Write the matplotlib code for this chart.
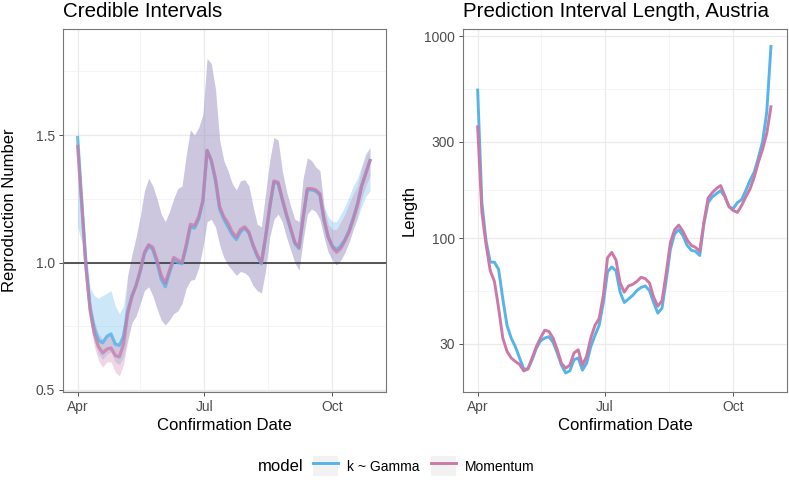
import matplotlib
matplotlib.use('Agg')
import matplotlib.pyplot as plt
from matplotlib.patches import Rectangle
from matplotlib.lines import Line2D
import pandas as pd

plt.rcParams['font.family'] = ['Liberation Sans', 'DejaVu Sans']

# every third day from 1 April 2020
dates = pd.date_range('2020-04-01', periods=71, freq='3D')

# reproduction number, posterior mean
gamma_r = [1.49, 1.24, 0.99, 0.82, 0.74, 0.695, 0.685, 0.71, 0.72, 0.68,
           0.675, 0.71, 0.81, 0.87, 0.91, 0.965, 1.035, 1.065, 1.05, 1.0,
           0.935, 0.905, 0.96, 1.01, 1.0, 0.995, 1.06, 1.14, 1.135, 1.17,
           1.24, 1.44, 1.40, 1.32, 1.21, 1.17, 1.14, 1.11, 1.09, 1.12,
           1.135, 1.115, 1.065, 1.025, 0.995, 1.10, 1.215, 1.315, 1.31, 1.245,
           1.185, 1.13, 1.075, 1.055, 1.175, 1.285, 1.285, 1.28, 1.265, 1.165,
           1.10, 1.065, 1.05, 1.065, 1.09, 1.125, 1.175, 1.23, 1.30, 1.35,
           1.40]
mom_r = [1.456, 1.22, 0.98, 0.81, 0.72, 0.67, 0.645, 0.66, 0.665, 0.635,
         0.63, 0.68, 0.80, 0.865, 0.91, 0.97, 1.04, 1.07, 1.06, 1.01,
         0.95, 0.92, 0.97, 1.02, 1.01, 1.00, 1.07, 1.15, 1.145, 1.18,
         1.245, 1.44, 1.40, 1.33, 1.22, 1.18, 1.155, 1.12, 1.10, 1.13,
         1.14, 1.12, 1.07, 1.03, 1.00, 1.10, 1.22, 1.32, 1.315, 1.25,
         1.19, 1.135, 1.08, 1.06, 1.18, 1.29, 1.29, 1.285, 1.27, 1.17,
         1.10, 1.06, 1.04, 1.055, 1.085, 1.12, 1.17, 1.225, 1.30, 1.35,
         1.40]

# credible interval bounds
gamma_hi = [1.54, 1.28, 1.05, 0.90, 0.87, 0.86, 0.87, 0.88, 0.89, 0.83,
            0.80, 0.83, 0.95, 1.03, 1.10, 1.18, 1.28, 1.33, 1.30, 1.25,
            1.19, 1.16, 1.20, 1.25, 1.29, 1.30, 1.42, 1.52, 1.50, 1.53,
            1.58, 1.80, 1.78, 1.68, 1.48, 1.40, 1.36, 1.31, 1.285, 1.32,
            1.325, 1.30, 1.22, 1.15, 1.14, 1.27, 1.40, 1.49, 1.48, 1.36,
            1.28, 1.22, 1.17, 1.16, 1.33, 1.41, 1.40, 1.375, 1.36, 1.22,
            1.18, 1.16, 1.16, 1.19, 1.22, 1.26, 1.30, 1.33, 1.38, 1.43,
            1.45]
gamma_lo = [1.14, 1.08, 0.90, 0.76, 0.69, 0.64, 0.62, 0.64, 0.65, 0.61,
            0.60, 0.63, 0.70, 0.765, 0.79, 0.84, 0.89, 0.905, 0.87, 0.82,
            0.775, 0.755, 0.775, 0.80, 0.81, 0.84, 0.90, 0.93, 0.935, 0.98,
            1.06, 1.16, 1.17, 1.14, 1.07, 1.02, 0.99, 0.97, 0.95, 0.965,
            0.96, 0.945, 0.91, 0.89, 0.88, 0.97, 1.10, 1.17, 1.19, 1.16,
            1.10, 1.05, 1.00, 0.97, 1.09, 1.19, 1.21, 1.20, 1.17, 1.10,
            1.04, 1.01, 0.99, 1.01, 1.04, 1.08, 1.13, 1.17, 1.22, 1.26,
            1.28]
mom_hi = [1.52, 1.26, 1.02, 0.86, 0.77, 0.72, 0.70, 0.72, 0.72, 0.69,
          0.68, 0.76, 0.95, 1.03, 1.10, 1.18, 1.28, 1.33, 1.30, 1.25,
          1.19, 1.16, 1.20, 1.25, 1.29, 1.30, 1.42, 1.52, 1.50, 1.53,
          1.58, 1.80, 1.78, 1.68, 1.48, 1.40, 1.36, 1.31, 1.285, 1.32,
          1.325, 1.30, 1.22, 1.15, 1.14, 1.27, 1.40, 1.49, 1.48, 1.36,
          1.28, 1.22, 1.17, 1.16, 1.33, 1.41, 1.40, 1.375, 1.36, 1.22,
          1.15, 1.13, 1.13, 1.16, 1.19, 1.23, 1.27, 1.30, 1.37, 1.42,
          1.45]
mom_lo = [1.40, 1.18, 0.95, 0.77, 0.67, 0.615, 0.59, 0.61, 0.61, 0.57,
          0.555, 0.60, 0.69, 0.765, 0.79, 0.84, 0.89, 0.905, 0.87, 0.82,
          0.775, 0.755, 0.775, 0.80, 0.81, 0.84, 0.90, 0.93, 0.935, 0.98,
          1.06, 1.16, 1.17, 1.14, 1.07, 1.02, 0.99, 0.97, 0.95, 0.965,
          0.96, 0.945, 0.91, 0.89, 0.88, 0.97, 1.10, 1.17, 1.19, 1.16,
          1.10, 1.05, 1.00, 0.97, 1.09, 1.19, 1.21, 1.20, 1.17, 1.10,
          1.04, 1.01, 0.99, 1.01, 1.04, 1.08, 1.13, 1.18, 1.25, 1.30,
          1.34]

# prediction interval length
gamma_len = [541, 150, 97, 76, 76, 70, 50, 37, 32, 29,
             25.5, 22.5, 22.5, 25, 28.5, 31, 32, 32.5, 30.5, 27,
             23.5, 21.5, 22, 25, 25.5, 22.2, 24, 29, 33, 37,
             48, 68, 72, 69, 54, 48, 50, 52, 55, 57,
             58, 55, 48, 42.5, 45, 62, 88, 105, 110, 103,
             92, 87, 86, 82, 118, 150, 160, 166, 172, 160,
             143, 140, 150, 155, 172, 193, 212, 250, 300, 420,
             889]
mom_len = [356, 135, 93, 69, 61, 45, 32, 27.5, 25.5, 24.5,
           23.7, 22, 22.5, 25.5, 29, 32, 35, 34.5, 32, 28,
           24, 22.7, 23.5, 27, 28, 23.5, 26, 32, 37, 40,
           52, 80, 85, 78, 60, 54, 58, 59, 61, 64,
           63, 60, 51, 46, 49, 67, 95, 110, 116, 108,
           98, 92, 90, 86, 120, 158, 168, 176, 182, 162,
           143, 137, 134, 145, 160, 175, 200, 238, 275, 330,
           447]

models = ['k ~ Gamma', 'Momentum']
blue = '#56B4E9'
pink = '#CC79A7'

month_ticks = pd.to_datetime(['2020-04-01', '2020-07-01', '2020-10-01'])
month_labels = ['Apr', 'Jul', 'Oct']
mid_ticks = pd.to_datetime(['2020-05-16', '2020-08-16'])
x_lo = dates[0] - pd.Timedelta(days=10.5)
x_hi = dates[-1] + pd.Timedelta(days=11.5)


def style_axis(ax, title):
    ax.set_xlim(x_lo, x_hi)
    ax.set_xticks(month_ticks)
    ax.set_xticklabels(month_labels)
    ax.set_xticks(mid_ticks, minor=True)
    ax.grid(which='major', color='#ebebeb', lw=0.9)
    ax.grid(which='minor', color='#f2f2f2', lw=0.5)
    ax.set_axisbelow(True)
    for s in ax.spines.values():
        s.set_color('#777777')
        s.set_linewidth(0.8)
    ax.tick_params(which='major', length=3, width=0.6, color='#333333',
                   labelsize=10, labelcolor='#4d4d4d', pad=3)
    ax.tick_params(which='minor', length=0)
    ax.set_xlabel('Confirmation Date', fontsize=12, labelpad=3)
    ax.yaxis.set_label_coords(-0.143, 0.5)
    # title baseline about 12 px above the panel
    ax.set_title(title, loc='left', fontsize=14.8, y=1 + 12 / 363, pad=0, va='baseline')


fig = plt.figure(figsize=(7.89, 4.80), dpi=100)
ax1 = fig.add_axes([63 / 789, 88 / 480, 323 / 789, 363 / 480])
ax2 = fig.add_axes([463 / 789, 88 / 480, 324 / 789, 363 / 480])

# left: credible intervals
ax1.axhspan(0.40, 0.5, color='#ebebeb', lw=0)
ax1.fill_between(dates, gamma_lo, gamma_hi, color=blue, alpha=0.3, lw=0)
ax1.fill_between(dates, mom_lo, mom_hi, color=pink, alpha=0.3, lw=0)
ax1.axhline(1.0, color='#3a3a3a', lw=1.2)
ax1.plot(dates, gamma_r, color=blue, lw=2.3, alpha=0.8)
ax1.plot(dates, mom_r, color=pink, lw=2.3, alpha=0.75)
ax1.set_ylabel('Reproduction Number', fontsize=12)
style_axis(ax1, 'Credible Intervals')
ax1.set_ylim(0.492, 1.916)
ax1.set_yticks([0.5, 1.0, 1.5])
ax1.set_yticklabels(['0.5', '1.0', '1.5'])
ax1.set_yticks([0.75, 1.25, 1.75], minor=True)

# right: prediction interval length
ax2.plot(dates, gamma_len, color=blue, lw=2.1)
ax2.plot(dates, mom_len, color=pink, lw=2.1)
ax2.set_yscale('log')
ax2.set_ylabel('Length', fontsize=12)
style_axis(ax2, 'Prediction Interval Length, Austria')
ax2.set_ylim(17.4, 1085)
ax2.set_yticks([30, 100, 300, 1000])
ax2.set_yticklabels(['30', '100', '300', '1000'])
ax2.set_yticks([17.3, 54.8, 173, 548], minor=True)

# legend at the bottom
handles = [(Rectangle((0, 0), 1, 1, fc='#f2f2f2', ec='none'), Line2D([], [], color=c, lw=2.1))
           for c in [blue, pink]]
fig.legend(handles, models, ncol=2, loc='center', bbox_to_anchor=(0.537, 0.029),
           frameon=False, fontsize=10, handlelength=1.8, handleheight=1.8,
           handletextpad=0.65, columnspacing=0.8, borderpad=0, borderaxespad=0)
fig.text(258 / 789, 0.029, 'model', fontsize=12, va='center', ha='left')

fig.savefig('out.png', dpi=100)
